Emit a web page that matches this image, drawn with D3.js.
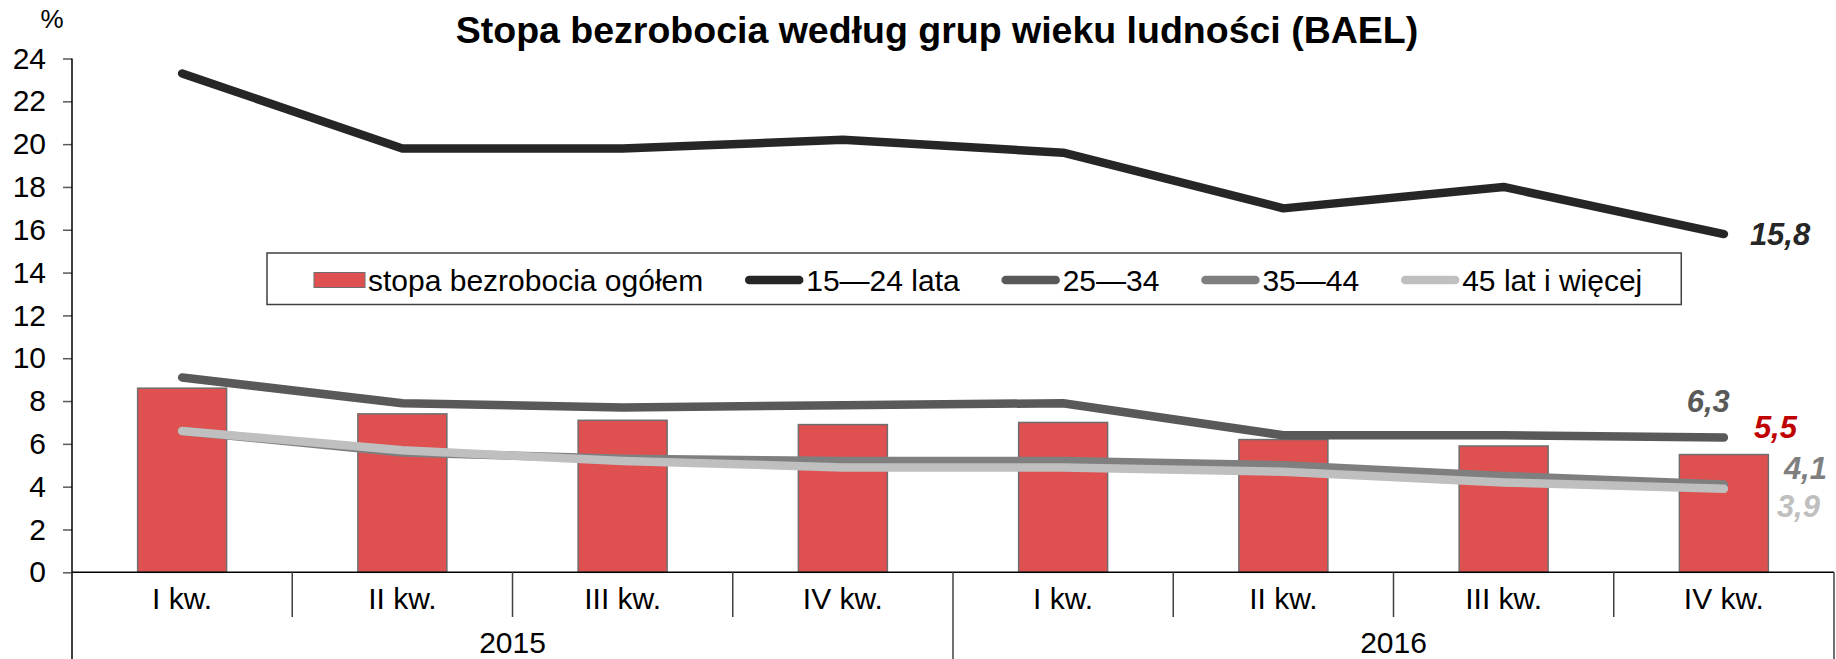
<!DOCTYPE html>
<html>
<head>
<meta charset="utf-8">
<script src="https://cdn.jsdelivr.net/npm/d3@7"></script>
<style>
  body { margin: 0; background: #fff; }
  svg { display: block; font-family: "Liberation Sans", Arial, sans-serif; }
</style>
</head>
<body>
<svg id="chart" width="1836" height="659"></svg>
<script>
// data
const years = ["2015", "2016"];
const quarters = ["I kw.", "II kw.", "III kw.", "IV kw."];
const yTicks = [0, 2, 4, 6, 8, 10, 12, 14, 16, 18, 20, 22, 24];

const total = [8.6, 7.4, 7.1, 6.9, 7.0, 6.2, 5.9, 5.5];
const age15_24 = [23.3, 19.8, 19.8, 20.2, 19.6, 17.0, 18.0, 15.8];
const age25_34 = [9.1, 7.9, 7.7, 7.8, 7.9, 6.4, 6.4, 6.3];
const age35_44 = [6.6, 5.6, 5.3, 5.2, 5.2, 5.0, 4.5, 4.1];
const age45 = [6.6, 5.7, 5.2, 4.9, 4.9, 4.7, 4.2, 3.9];

const lineSeries = [
  { name: "15\u201424 lata", values: age15_24, color: "#262626", dx: 26, dy: 11, anchor: "start" },
  { name: "25\u201434", values: age25_34, color: "#595959", dx: 6, dy: -25, anchor: "end" },
  { name: "35\u201444", values: age35_44, color: "#7f7f7f", dx: 60, dy: -6, anchor: "start" },
  { name: "45 lat i wi\u0119cej", values: age45, color: "#bfbfbf", dx: 53, dy: 28, anchor: "start" }
];

const svg = d3.select("#chart");
const mLeft = 72, mRight = 1834, mTop = 58.5, mBottom = 572.3;

const categories = years.flatMap(y => quarters.map(q => y + "|" + q));

const x = d3.scaleBand().domain(categories).range([mLeft, mRight]).padding(0);
const y = d3.scaleLinear().domain([0, 24]).range([mBottom, mTop]);
const cx = i => x(categories[i]) + x.bandwidth() / 2;
const fmt = v => d3.format(".1f")(v).replace(".", ",");

// title
svg.append("text")
  .attr("x", 937).attr("y", 43)
  .attr("text-anchor", "middle")
  .style("font-size", "37.5px").style("font-weight", "bold")
  .text("Stopa bezrobocia według grup wieku ludności (BAEL)");

svg.append("text")
  .attr("x", 52).attr("y", 28)
  .attr("text-anchor", "middle")
  .style("font-size", "26px")
  .text("%");

// y axis
const yAxis = svg.append("g")
  .attr("transform", `translate(${mLeft},0)`)
  .call(d3.axisLeft(y).tickValues(yTicks).tickSize(9).tickPadding(17));
yAxis.select(".domain").remove();
yAxis.selectAll(".tick line").attr("stroke", "#595959").attr("stroke-width", 1.5);
yAxis.selectAll(".tick text").style("font-size", "30px").attr("fill", "#000");

svg.append("line")
  .attr("x1", mLeft).attr("x2", mLeft)
  .attr("y1", mTop).attr("y2", 659)
  .attr("stroke", "#000").attr("stroke-width", 1.5);

// bars
const barW = x.bandwidth() * 0.404;
svg.append("g").selectAll("rect")
  .data(total)
  .enter()
  .append("rect")
  .attr("x", (d, i) => cx(i) - barW / 2)
  .attr("y", d => y(d))
  .attr("width", barW)
  .attr("height", d => y(0) - y(d))
  .attr("fill", "#df5050")
  .attr("stroke", "#6e6e6e")
  .attr("stroke-width", 1.5);

// x axis
svg.append("line")
  .attr("x1", mLeft).attr("x2", mRight)
  .attr("y1", mBottom).attr("y2", mBottom)
  .attr("stroke", "#000").attr("stroke-width", 1.5);

const sep = svg.append("g");
categories.forEach((c, i) => {
  const isYear = i % quarters.length === 0;
  sep.append("line")
    .attr("x1", x(c)).attr("x2", x(c))
    .attr("y1", mBottom).attr("y2", isYear ? 659 : 617)
    .attr("stroke", "#404040").attr("stroke-width", 1.5);
});
sep.append("line")
  .attr("x1", mRight).attr("x2", mRight)
  .attr("y1", mBottom).attr("y2", 659)
  .attr("stroke", "#404040").attr("stroke-width", 1.5);

svg.append("g").selectAll("text")
  .data(categories)
  .enter()
  .append("text")
  .attr("x", (d, i) => cx(i))
  .attr("y", 609)
  .attr("text-anchor", "middle")
  .style("font-size", "30px")
  .text(d => d.split("|")[1]);

svg.append("g").selectAll("text")
  .data(years)
  .enter()
  .append("text")
  .attr("x", (d, k) => (cx(k * 4) + cx(k * 4 + 3)) / 2)
  .attr("y", 653)
  .attr("text-anchor", "middle")
  .style("font-size", "30px")
  .text(d => d);

// lines
const line = d3.line()
  .x((d, i) => cx(i))
  .y(d => y(d));

svg.append("g").selectAll("path")
  .data(lineSeries)
  .enter()
  .append("path")
  .attr("d", d => line(d.values))
  .attr("fill", "none")
  .attr("stroke", d => d.color)
  .attr("stroke-width", 8.5)
  .attr("stroke-linecap", "round")
  .attr("stroke-linejoin", "round");

// end labels
const last = total.length - 1;
const labels = svg.append("g")
  .style("font-size", "31px").style("font-weight", "bold").style("font-style", "italic");
lineSeries.forEach(s => {
  labels.append("text")
    .attr("x", cx(last) + s.dx)
    .attr("y", y(s.values[last]) + s.dy)
    .attr("text-anchor", s.anchor)
    .attr("fill", s.color)
    .text(fmt(s.values[last]));
});
labels.append("text")
  .attr("x", cx(last) + 30)
  .attr("y", y(total[last]) - 17)
  .attr("fill", "#c00000")
  .text(fmt(total[last]));

// legend
const legend = svg.append("g");
const box = legend.append("rect")
  .attr("x", 267).attr("y", 253)
  .attr("height", 51.5)
  .attr("fill", "#fff")
  .attr("stroke", "#404040").attr("stroke-width", 1.5);

const legendItems = [{ name: "stopa bezrobocia ogółem", bar: true, color: "#df5050" }]
  .concat(lineSeries.map(s => ({ name: s.name, bar: false, color: s.color })));

let lx = 267 + 47;
const ly = 280;
legendItems.forEach((it, k) => {
  if (it.bar) {
    legend.append("rect")
      .attr("x", lx).attr("y", ly - 7.5)
      .attr("width", 51).attr("height", 15)
      .attr("fill", it.color).attr("stroke", "#6e6e6e").attr("stroke-width", 1);
    lx += 54;
  } else {
    legend.append("line")
      .attr("x1", lx + 4).attr("x2", lx + 54)
      .attr("y1", ly).attr("y2", ly)
      .attr("stroke", it.color).attr("stroke-width", 8.5)
      .attr("stroke-linecap", "round");
    lx += 61;
  }
  const t = legend.append("text")
    .attr("x", lx).attr("y", ly + 10.5)
    .style("font-size", "30px")
    .text(it.name);
  lx += t.node().getComputedTextLength();
  if (k < legendItems.length - 1) lx += 42;
});
box.attr("width", lx + 39 - 267);
</script>
</body>
</html>
